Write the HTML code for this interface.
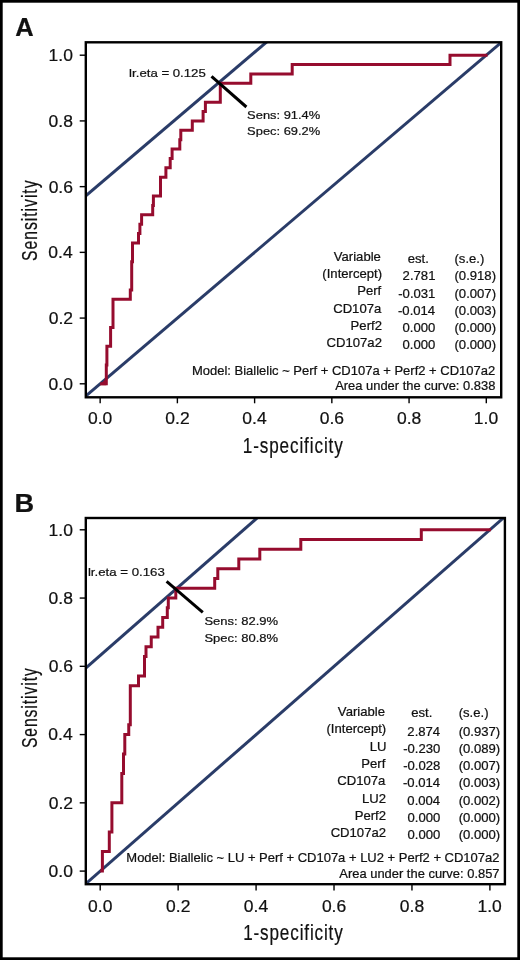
<!DOCTYPE html>
<html><head><meta charset="utf-8"><style>
html,body{margin:0;padding:0;background:#fff;}
svg{display:block;will-change:transform;}
text{font-family:"Liberation Sans",sans-serif;stroke:#111;stroke-width:0.22px;}
</style></head><body>
<svg width="520" height="960" viewBox="0 0 520 960">
<rect width="520" height="960" fill="#fff"/>
<rect x="1.35" y="1.35" width="517.3" height="957.3" fill="none" stroke="#000" stroke-width="2.7"/>
<clipPath id="cA"><rect x="85.8" y="42.3" width="415.4" height="355.0"/></clipPath>
<g clip-path="url(#cA)">
<line x1="22.92" y1="449.52" x2="563.53" y2="-10.52" stroke="#2a3c68" stroke-width="3"/>
<line x1="22.92" y1="249.40" x2="486.30" y2="-144.92" stroke="#2a3c68" stroke-width="3"/>
<path d="M100.15,383.80 106.30,383.80 106.30,365.02 106.90,365.02 106.90,346.25 110.60,346.25 110.60,327.47 113.00,327.47 113.00,299.30 130.30,299.30 130.30,289.91 131.70,289.91 131.70,261.75 132.50,261.75 132.50,242.97 138.50,242.97 138.50,233.58 139.90,233.58 139.90,224.19 141.60,224.19 141.60,214.81 152.70,214.81 152.70,205.42 153.40,205.42 153.40,196.03 160.50,196.03 160.50,177.25 165.90,177.25 165.90,167.86 170.20,167.86 170.20,158.47 172.10,158.47 172.10,149.09 179.80,149.09 179.80,139.70 180.80,139.70 180.80,130.31 192.30,130.31 192.30,120.92 203.10,120.92 203.10,111.53 205.40,111.53 205.40,102.14 220.30,102.14 220.30,83.37 250.80,83.37 250.80,73.98 292.20,73.98 292.20,64.59 450.00,64.59 450.00,55.20 487.50,55.20" fill="none" stroke="#960c2e" stroke-width="3" stroke-linejoin="miter" stroke-linecap="butt"/>
<polygon points="99.6,385.2 106.3,385.2 106.3,378.0" fill="#960c2e"/>
</g>
<line x1="211.5" y1="76.3" x2="246.4" y2="107.0" stroke="#000" stroke-width="3"/>
<rect x="85.8" y="42.3" width="415.4" height="355.0" fill="none" stroke="#000" stroke-width="2.4"/>
<line x1="79.7" y1="383.80" x2="85.8" y2="383.80" stroke="#000" stroke-width="1.4"/>
<line x1="100.15" y1="397.3" x2="100.15" y2="403.3" stroke="#000" stroke-width="1.4"/>
<text transform="translate(48.54,389.70) scale(1.0300,1)" font-size="17.00" font-weight="normal" fill="#111">0.0</text>
<text transform="translate(87.98,424.00) scale(1.0300,1)" font-size="17.00" font-weight="normal" fill="#111">0.0</text>
<line x1="79.7" y1="318.08" x2="85.8" y2="318.08" stroke="#000" stroke-width="1.4"/>
<line x1="177.38" y1="397.3" x2="177.38" y2="403.3" stroke="#000" stroke-width="1.4"/>
<text transform="translate(48.74,323.98) scale(1.0300,1)" font-size="17.00" font-weight="normal" fill="#111">0.2</text>
<text transform="translate(165.31,424.00) scale(1.0300,1)" font-size="17.00" font-weight="normal" fill="#111">0.2</text>
<line x1="79.7" y1="252.36" x2="85.8" y2="252.36" stroke="#000" stroke-width="1.4"/>
<line x1="254.61" y1="397.3" x2="254.61" y2="403.3" stroke="#000" stroke-width="1.4"/>
<text transform="translate(48.37,258.26) scale(1.0300,1)" font-size="17.00" font-weight="normal" fill="#111">0.4</text>
<text transform="translate(242.35,424.00) scale(1.0300,1)" font-size="17.00" font-weight="normal" fill="#111">0.4</text>
<line x1="79.7" y1="186.64" x2="85.8" y2="186.64" stroke="#000" stroke-width="1.4"/>
<line x1="331.84" y1="397.3" x2="331.84" y2="403.3" stroke="#000" stroke-width="1.4"/>
<text transform="translate(48.63,192.54) scale(1.0300,1)" font-size="17.00" font-weight="normal" fill="#111">0.6</text>
<text transform="translate(319.71,424.00) scale(1.0300,1)" font-size="17.00" font-weight="normal" fill="#111">0.6</text>
<line x1="79.7" y1="120.92" x2="85.8" y2="120.92" stroke="#000" stroke-width="1.4"/>
<line x1="409.07" y1="397.3" x2="409.07" y2="403.3" stroke="#000" stroke-width="1.4"/>
<text transform="translate(48.62,126.82) scale(1.0300,1)" font-size="17.00" font-weight="normal" fill="#111">0.8</text>
<text transform="translate(396.94,424.00) scale(1.0300,1)" font-size="17.00" font-weight="normal" fill="#111">0.8</text>
<line x1="79.7" y1="55.20" x2="85.8" y2="55.20" stroke="#000" stroke-width="1.4"/>
<line x1="486.30" y1="397.3" x2="486.30" y2="403.3" stroke="#000" stroke-width="1.4"/>
<text transform="translate(48.54,61.10) scale(1.0300,1)" font-size="17.00" font-weight="normal" fill="#111">1.0</text>
<text transform="translate(473.80,424.00) scale(1.0300,1)" font-size="17.00" font-weight="normal" fill="#111">1.0</text>
<text transform="translate(15.17,35.80) scale(0.9907,1)" font-size="25.73" font-weight="bold" fill="#111">A</text>
<text transform="translate(242.80,452.90) scale(0.8000,1)" font-size="21.40" font-weight="normal" fill="#111" letter-spacing="1.105">1-specificity</text>
<text transform="translate(129.11,77.00) scale(1.1190,1)" font-size="11.80" font-weight="normal" fill="#111">lr.eta = 0.125</text>
<text transform="translate(247.11,118.70) scale(1.0932,1)" font-size="11.80" font-weight="normal" fill="#111">Sens: 91.4%</text>
<text transform="translate(247.11,135.20) scale(1.0932,1)" font-size="11.80" font-weight="normal" fill="#111">Spec: 69.2%</text>
<text transform="translate(191.93,375.10) scale(1.0660,1)" font-size="12.20" font-weight="normal" fill="#111">Model: Biallelic ~ Perf + CD107a + Perf2 + CD107a2</text>
<text transform="translate(335.14,390.30) scale(1.0600,1)" font-size="12.20" font-weight="normal" fill="#111">Area under the curve: 0.838</text>
<text transform="translate(333.76,260.50) scale(1.0750,1)" font-size="12.20" font-weight="normal" fill="#111">Variable</text>
<text transform="translate(407.75,263.10) scale(1.0750,1)" font-size="12.20" font-weight="normal" fill="#111">est.</text>
<text transform="translate(454.49,263.10) scale(1.0750,1)" font-size="12.20" font-weight="normal" fill="#111">(s.e.)</text>
<text transform="translate(322.35,277.85) scale(1.0750,1)" font-size="12.20" font-weight="normal" fill="#111">(Intercept)</text>
<text transform="translate(402.62,280.30) scale(1.0750,1)" font-size="12.20" font-weight="normal" fill="#111">2.781</text>
<text transform="translate(454.49,280.30) scale(1.0750,1)" font-size="12.20" font-weight="normal" fill="#111">(0.918)</text>
<text transform="translate(357.23,295.20) scale(1.0750,1)" font-size="12.20" font-weight="normal" fill="#111">Perf</text>
<text transform="translate(398.25,297.50) scale(1.0750,1)" font-size="12.20" font-weight="normal" fill="#111">-0.031</text>
<text transform="translate(454.49,297.50) scale(1.0750,1)" font-size="12.20" font-weight="normal" fill="#111">(0.007)</text>
<text transform="translate(333.18,312.55) scale(1.0750,1)" font-size="12.20" font-weight="normal" fill="#111">CD107a</text>
<text transform="translate(398.00,314.70) scale(1.0750,1)" font-size="12.20" font-weight="normal" fill="#111">-0.014</text>
<text transform="translate(454.49,314.70) scale(1.0750,1)" font-size="12.20" font-weight="normal" fill="#111">(0.003)</text>
<text transform="translate(350.61,329.90) scale(1.0750,1)" font-size="12.20" font-weight="normal" fill="#111">Perf2</text>
<text transform="translate(402.49,331.90) scale(1.0750,1)" font-size="12.20" font-weight="normal" fill="#111">0.000</text>
<text transform="translate(454.49,331.90) scale(1.0750,1)" font-size="12.20" font-weight="normal" fill="#111">(0.000)</text>
<text transform="translate(326.55,347.25) scale(1.0750,1)" font-size="12.20" font-weight="normal" fill="#111">CD107a2</text>
<text transform="translate(402.49,349.10) scale(1.0750,1)" font-size="12.20" font-weight="normal" fill="#111">0.000</text>
<text transform="translate(454.49,349.10) scale(1.0750,1)" font-size="12.20" font-weight="normal" fill="#111">(0.000)</text>
<clipPath id="cB"><rect x="85.8" y="518.0" width="419.09999999999997" height="366.20000000000005"/></clipPath>
<g clip-path="url(#cB)">
<line x1="22.26" y1="939.36" x2="567.84" y2="461.54" stroke="#2a3c68" stroke-width="3"/>
<line x1="22.26" y1="723.66" x2="489.90" y2="314.10" stroke="#2a3c68" stroke-width="3"/>
<path d="M100.20,871.10 102.40,871.10 102.40,851.60 109.30,851.60 109.30,832.09 111.90,832.09 111.90,802.84 121.80,802.84 121.80,773.59 123.50,773.59 123.50,754.08 124.80,754.08 124.80,734.58 128.75,734.58 128.75,724.83 130.30,724.83 130.30,685.82 138.50,685.82 138.50,676.07 144.50,676.07 144.50,656.57 146.00,656.57 146.00,646.82 151.25,646.82 151.25,637.07 158.00,637.07 158.00,627.31 162.70,627.31 162.70,617.56 167.30,617.56 167.30,607.81 168.30,607.81 168.30,598.06 175.80,598.06 175.80,588.31 214.70,588.31 214.70,578.56 217.80,578.56 217.80,568.81 238.80,568.81 238.80,559.05 259.80,559.05 259.80,549.30 300.80,549.30 300.80,539.55 421.30,539.55 421.30,529.80 491.00,529.80" fill="none" stroke="#960c2e" stroke-width="3" stroke-linejoin="miter" stroke-linecap="butt"/>
</g>
<line x1="166.6" y1="581.3" x2="202.8" y2="612.3" stroke="#000" stroke-width="3"/>
<rect x="85.8" y="518.0" width="419.09999999999997" height="366.20000000000005" fill="none" stroke="#000" stroke-width="2.4"/>
<line x1="79.7" y1="871.10" x2="85.8" y2="871.10" stroke="#000" stroke-width="1.4"/>
<line x1="100.20" y1="884.2" x2="100.20" y2="890.6" stroke="#000" stroke-width="1.4"/>
<text transform="translate(48.54,877.00) scale(1.0300,1)" font-size="17.00" font-weight="normal" fill="#111">0.0</text>
<text transform="translate(88.03,911.60) scale(1.0300,1)" font-size="17.00" font-weight="normal" fill="#111">0.0</text>
<line x1="79.7" y1="802.84" x2="85.8" y2="802.84" stroke="#000" stroke-width="1.4"/>
<line x1="178.14" y1="884.2" x2="178.14" y2="890.6" stroke="#000" stroke-width="1.4"/>
<text transform="translate(48.74,808.74) scale(1.0300,1)" font-size="17.00" font-weight="normal" fill="#111">0.2</text>
<text transform="translate(166.07,911.60) scale(1.0300,1)" font-size="17.00" font-weight="normal" fill="#111">0.2</text>
<line x1="79.7" y1="734.58" x2="85.8" y2="734.58" stroke="#000" stroke-width="1.4"/>
<line x1="256.08" y1="884.2" x2="256.08" y2="890.6" stroke="#000" stroke-width="1.4"/>
<text transform="translate(48.37,740.48) scale(1.0300,1)" font-size="17.00" font-weight="normal" fill="#111">0.4</text>
<text transform="translate(243.82,911.60) scale(1.0300,1)" font-size="17.00" font-weight="normal" fill="#111">0.4</text>
<line x1="79.7" y1="666.32" x2="85.8" y2="666.32" stroke="#000" stroke-width="1.4"/>
<line x1="334.02" y1="884.2" x2="334.02" y2="890.6" stroke="#000" stroke-width="1.4"/>
<text transform="translate(48.63,672.22) scale(1.0300,1)" font-size="17.00" font-weight="normal" fill="#111">0.6</text>
<text transform="translate(321.89,911.60) scale(1.0300,1)" font-size="17.00" font-weight="normal" fill="#111">0.6</text>
<line x1="79.7" y1="598.06" x2="85.8" y2="598.06" stroke="#000" stroke-width="1.4"/>
<line x1="411.96" y1="884.2" x2="411.96" y2="890.6" stroke="#000" stroke-width="1.4"/>
<text transform="translate(48.62,603.96) scale(1.0300,1)" font-size="17.00" font-weight="normal" fill="#111">0.8</text>
<text transform="translate(399.83,911.60) scale(1.0300,1)" font-size="17.00" font-weight="normal" fill="#111">0.8</text>
<line x1="79.7" y1="529.80" x2="85.8" y2="529.80" stroke="#000" stroke-width="1.4"/>
<line x1="489.90" y1="884.2" x2="489.90" y2="890.6" stroke="#000" stroke-width="1.4"/>
<text transform="translate(48.54,535.70) scale(1.0300,1)" font-size="17.00" font-weight="normal" fill="#111">1.0</text>
<text transform="translate(477.40,911.60) scale(1.0300,1)" font-size="17.00" font-weight="normal" fill="#111">1.0</text>
<text transform="translate(14.48,511.90) scale(1.0346,1)" font-size="26.31" font-weight="bold" fill="#111">B</text>
<text transform="translate(243.20,940.00) scale(0.8000,1)" font-size="21.40" font-weight="normal" fill="#111" letter-spacing="1.063">1-specificity</text>
<text transform="translate(87.91,576.40) scale(1.1223,1)" font-size="11.80" font-weight="normal" fill="#111">lr.eta = 0.163</text>
<text transform="translate(204.41,624.90) scale(1.1023,1)" font-size="11.80" font-weight="normal" fill="#111">Sens: 82.9%</text>
<text transform="translate(204.41,642.20) scale(1.1023,1)" font-size="11.80" font-weight="normal" fill="#111">Spec: 80.8%</text>
<text transform="translate(126.33,861.50) scale(1.0648,1)" font-size="12.20" font-weight="normal" fill="#111">Model: Biallelic ~ LU + Perf + CD107a + LU2 + Perf2 + CD107a2</text>
<text transform="translate(339.33,877.70) scale(1.0600,1)" font-size="12.20" font-weight="normal" fill="#111">Area under the curve: 0.857</text>
<text transform="translate(337.86,715.90) scale(1.0750,1)" font-size="12.20" font-weight="normal" fill="#111">Variable</text>
<text transform="translate(411.25,716.50) scale(1.0750,1)" font-size="12.20" font-weight="normal" fill="#111">est.</text>
<text transform="translate(458.69,716.50) scale(1.0750,1)" font-size="12.20" font-weight="normal" fill="#111">(s.e.)</text>
<text transform="translate(326.45,733.25) scale(1.0750,1)" font-size="12.20" font-weight="normal" fill="#111">(Intercept)</text>
<text transform="translate(407.36,735.70) scale(1.0750,1)" font-size="12.20" font-weight="normal" fill="#111">2.874</text>
<text transform="translate(458.69,735.70) scale(1.0750,1)" font-size="12.20" font-weight="normal" fill="#111">(0.937)</text>
<text transform="translate(369.65,750.60) scale(1.0750,1)" font-size="12.20" font-weight="normal" fill="#111">LU</text>
<text transform="translate(403.13,752.95) scale(1.0750,1)" font-size="12.20" font-weight="normal" fill="#111">-0.230</text>
<text transform="translate(458.69,752.95) scale(1.0750,1)" font-size="12.20" font-weight="normal" fill="#111">(0.089)</text>
<text transform="translate(361.33,767.95) scale(1.0750,1)" font-size="12.20" font-weight="normal" fill="#111">Perf</text>
<text transform="translate(403.18,770.20) scale(1.0750,1)" font-size="12.20" font-weight="normal" fill="#111">-0.028</text>
<text transform="translate(458.69,770.20) scale(1.0750,1)" font-size="12.20" font-weight="normal" fill="#111">(0.007)</text>
<text transform="translate(337.28,785.30) scale(1.0750,1)" font-size="12.20" font-weight="normal" fill="#111">CD107a</text>
<text transform="translate(403.00,787.45) scale(1.0750,1)" font-size="12.20" font-weight="normal" fill="#111">-0.014</text>
<text transform="translate(458.69,787.45) scale(1.0750,1)" font-size="12.20" font-weight="normal" fill="#111">(0.003)</text>
<text transform="translate(362.00,802.65) scale(1.0750,1)" font-size="12.20" font-weight="normal" fill="#111">LU2</text>
<text transform="translate(407.36,804.70) scale(1.0750,1)" font-size="12.20" font-weight="normal" fill="#111">0.004</text>
<text transform="translate(458.69,804.70) scale(1.0750,1)" font-size="12.20" font-weight="normal" fill="#111">(0.002)</text>
<text transform="translate(354.71,820.00) scale(1.0750,1)" font-size="12.20" font-weight="normal" fill="#111">Perf2</text>
<text transform="translate(407.49,821.95) scale(1.0750,1)" font-size="12.20" font-weight="normal" fill="#111">0.000</text>
<text transform="translate(458.69,821.95) scale(1.0750,1)" font-size="12.20" font-weight="normal" fill="#111">(0.000)</text>
<text transform="translate(330.65,837.35) scale(1.0750,1)" font-size="12.20" font-weight="normal" fill="#111">CD107a2</text>
<text transform="translate(407.49,839.20) scale(1.0750,1)" font-size="12.20" font-weight="normal" fill="#111">0.000</text>
<text transform="translate(458.69,839.20) scale(1.0750,1)" font-size="12.20" font-weight="normal" fill="#111">(0.000)</text>
<text transform="translate(36.75,261.02) rotate(-90) scale(0.7200,1)" font-size="21.89" fill="#111" letter-spacing="1.346">Sensitivity</text>
<text transform="translate(36.75,748.11) rotate(-90) scale(0.7200,1)" font-size="21.61" fill="#111" letter-spacing="1.388">Sensitivity</text>
</svg></body></html>
